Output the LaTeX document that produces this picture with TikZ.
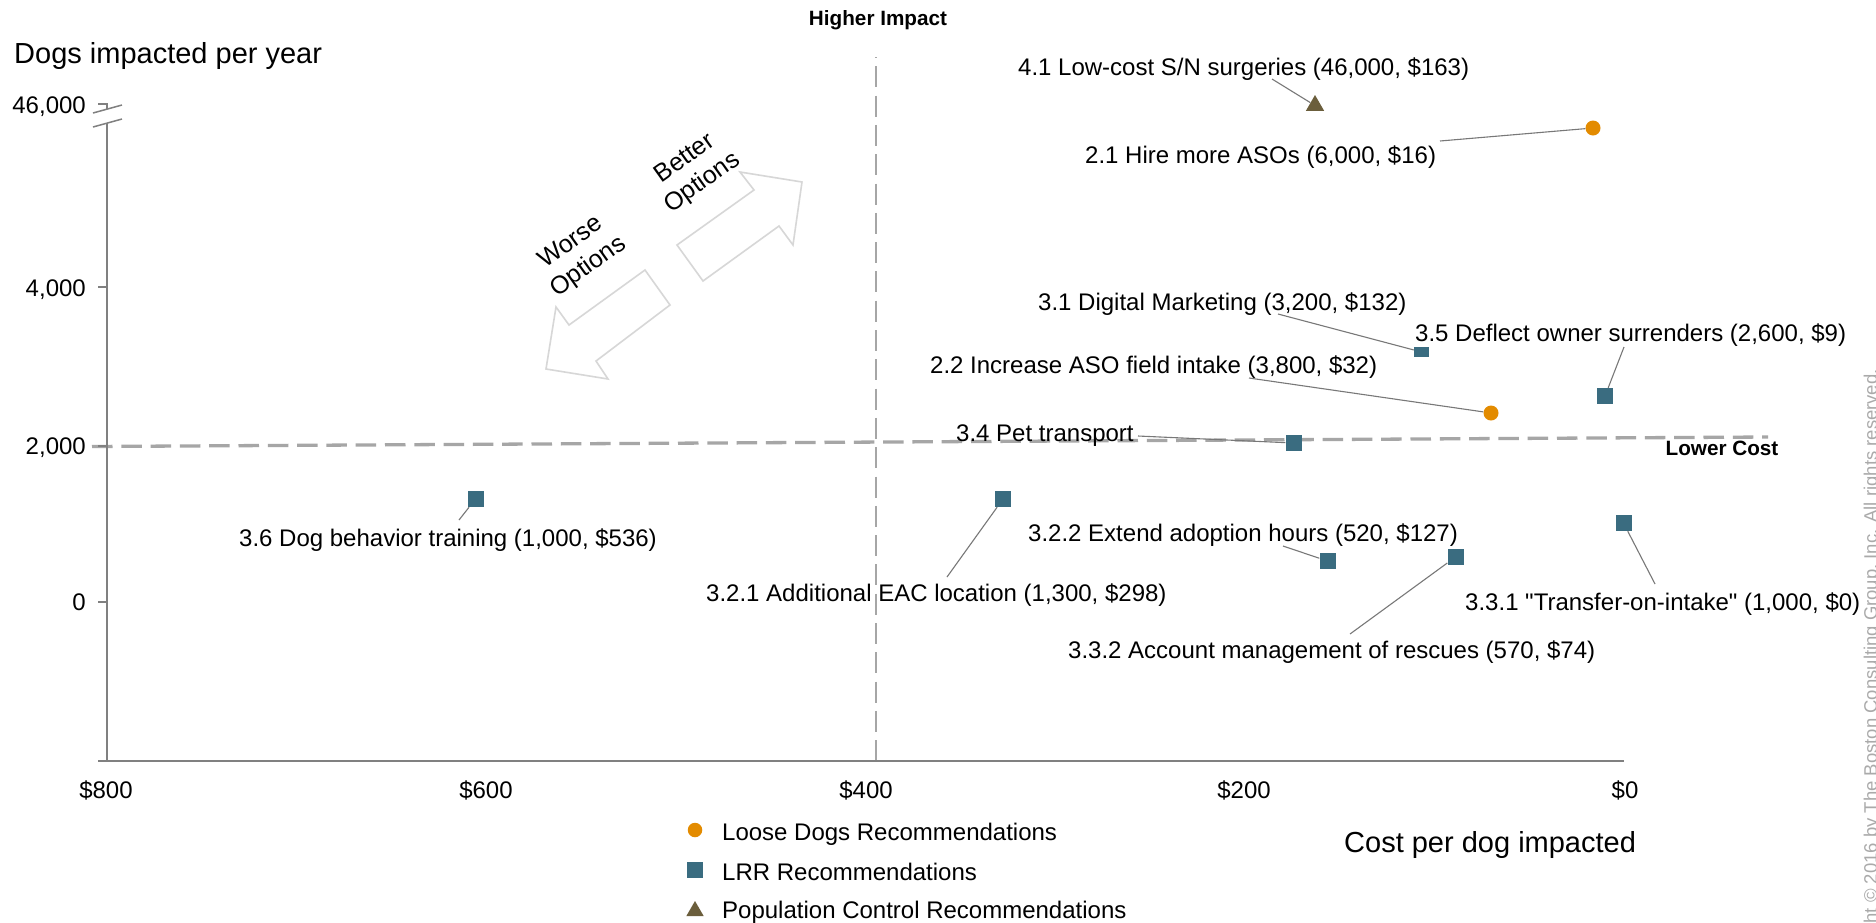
\documentclass[tikz,border=0pt]{standalone}
\usepackage{fontspec}
\setmainfont{Liberation Sans}
\newfontfamily\plainquote{Liberation Sans}
\usetikzlibrary{shapes.geometric}
\definecolor{loose}{RGB}{227,139,0}
\definecolor{lrr}{RGB}{58,108,128}
\definecolor{popc}{RGB}{107,94,60}
\definecolor{axisgray}{RGB}{128,128,128}
\definecolor{dashgray}{RGB}{166,166,166}
\definecolor{arrowgray}{RGB}{215,215,215}
\definecolor{leadgray}{RGB}{120,120,120}
\definecolor{copygray}{RGB}{170,170,170}
\begin{document}
\begin{tikzpicture}[x=1pt,y=-1pt,
  lbl/.style={font=\fontsize{24}{28}\selectfont, inner sep=0pt, text height=17.2pt, text depth=0pt, anchor=west},
  ticklbl/.style={font=\fontsize{24}{28}\selectfont, inner sep=0pt, text height=17.2pt, text depth=0pt},
  ttl/.style={font=\fontsize{29}{34}\selectfont, inner sep=0pt, text height=20.8pt, text depth=0pt, anchor=west},
  bld/.style={font=\bfseries\fontsize{20.7}{24}\selectfont, inner sep=0pt, text height=14.8pt, text depth=0pt},
  arrtxt/.style={font=\fontsize{25}{30}\selectfont, align=center, rotate=35.5, inner sep=0pt},
  axisln/.style={draw=axisgray, line width=1.8pt},
  dashln/.style={draw=dashgray},
  leader/.style={draw=leadgray, line width=1.1pt},
  bigarrow/.style={draw=arrowgray, line width=1.6pt, fill=white, line join=miter},
  sq/.style={rectangle, fill=lrr, minimum size=16pt, inner sep=0pt},
  dot/.style={circle, fill=loose, minimum size=15pt, inner sep=0pt},
  tri/.style={regular polygon, regular polygon sides=3, fill=popc, minimum size=21pt, inner sep=0pt}
]
\useasboundingbox (0,0) rectangle (1876,922);
\fill[white] (0,0) rectangle (1876,922);

% dashed quadrant lines
\draw[dashln, line width=3.3pt, dash pattern=on 20.5pt off 8.8pt] (92,446.5) -- (1768,437);
\draw[dashln, line width=2pt, dash pattern=on 21pt off 8.3pt, dash phase=20pt] (876,57) -- (876,761);

% axes
\draw[axisln] (98,104) -- (107,104) -- (107,109);
\draw[axisln, line width=1.5pt] (93,113) -- (122,105);
\draw[axisln, line width=1.5pt] (93,127) -- (122,119);
\draw[axisln] (107,123) -- (107,761) -- (1624,761);
\draw[axisln] (98,287) -- (107,287);
\draw[axisln] (98,446) -- (107,446);
\draw[axisln] (98,602) -- (107,602);
\draw[axisln] (98,761) -- (107,761);

% tick labels
\node[ticklbl, anchor=east] (y46) at (86,105) {46,000};
\node[ticklbl, anchor=east] (y4) at (86,288) {4,000};
\node[ticklbl, anchor=east] (y2) at (86,446) {2,000};
\node[ticklbl, anchor=east] (y0) at (86,602) {0};
\node[ticklbl] (x800) at (106,790) {\$800};
\node[ticklbl] (x600) at (486,790) {\$600};
\node[ticklbl] (x400) at (866,790) {\$400};
\node[ticklbl] (x200) at (1244,790) {\$200};
\node[ticklbl] (x0) at (1625,790) {\$0};

% axis titles
\node[ttl] (ytitle) at (14,53) {Dogs impacted per year};
\node[ttl] (xtitle) at (1344,842) {Cost per dog impacted};
\node[bld] (hi) at (878,18) {Higher Impact};
\node[bld] (lo) at (1722,448) {Lower Cost};

% better / worse arrows
\draw[bigarrow] (703,281) -- (677,245) -- (754,190) -- (740,172) -- (802,182) -- (793,245) -- (779,226) -- cycle;
\draw[bigarrow] (546,369) -- (556,307) -- (569,325) -- (645,270) -- (670,305) -- (596,361) -- (608,379) -- cycle;
\node[arrtxt] (better) at (694,171) {Better\\Options};
\node[arrtxt] (worse) at (580,255) {Worse\\Options};

% markers
\node[tri] (T41) at (1315,105.5) {};
\node[dot] (C21) at (1593,128) {};
\node[rectangle, fill=lrr, minimum width=15pt, minimum height=10pt, inner sep=0pt] (S31) at (1421.5,352) {};
\node[sq] (S35) at (1605,396) {};
\node[dot] (C22) at (1491,413) {};
\node[sq] (S34) at (1293.5,443) {};
\node[sq] (S36) at (475.5,499) {};
\node[sq] (S321) at (1003,499) {};
\node[sq] (S322) at (1327.5,561) {};
\node[sq] (S332) at (1455.5,557) {};
\node[sq] (S331) at (1623.5,523) {};

% labels
\node[lbl] (L41) at (1018,67) {4.1 Low-cost S/N surgeries (46,000, \$163)};
\node[lbl] (L21) at (1085,155) {2.1 Hire more ASOs (6,000, \$16)};
\node[lbl] (L31) at (1038,302) {3.1 Digital Marketing (3,200, \$132)};
\node[lbl] (L35) at (1415,333) {3.5 Deflect owner surrenders (2,600, \$9)};
\node[lbl] (L22) at (930,365) {2.2 Increase ASO field intake (3,800, \$32)};
\node[lbl] (L34) at (956,433) {3.4 Pet transport};
\node[lbl] (L36) at (239,538) {3.6 Dog behavior training (1,000, \$536)};
\node[lbl] (L321) at (706,593) {3.2.1 Additional EAC location (1,300, \$298)};
\node[lbl] (L322) at (1028,533) {3.2.2 Extend adoption hours (520, \$127)};
\node[lbl] (L332) at (1068,650) {3.3.2 Account management of rescues (570, \$74)};
\node[lbl] (L331) at (1465,602) {3.3.1 {\plainquote"}Transfer-on-intake{\plainquote"} (1,000, \$0)};

% leader lines
\coordinate (a41) at (1272,79);
\coordinate (a21) at (1440,141);
\coordinate (a31) at (1278,314);
\coordinate (a35) at (1624,347);
\coordinate (a22) at (1249,378);
\coordinate (a34) at (1138,436);
\coordinate (a36) at (459,520);
\coordinate (a321) at (947,577);
\coordinate (a322) at (1283,546);
\coordinate (a332) at (1350,634);
\coordinate (a331) at (1655,584);
\draw[leader] (a41) -- (T41);
\draw[leader] (a21) -- (C21);
\draw[leader] (a31) -- (S31);
\draw[leader] (a35) -- (S35);
\draw[leader] (a22) -- (C22);
\draw[leader] (a34) -- (S34);
\draw[leader] (a36) -- (S36);
\draw[leader] (a321) -- (S321);
\draw[leader] (a322) -- (S322);
\draw[leader] (a332) -- (S332);
\draw[leader] (a331) -- (S331);

% legend
\node[dot, minimum size=14.5pt] (g1) at (695,830) {};
\node[sq] (g2) at (695,870) {};
\node[tri, minimum size=20pt] (g3) at (695,911) {};
\node[lbl] (gt1) at (722,832) {Loose Dogs Recommendations};
\node[lbl] (gt2) at (722,872) {LRR Recommendations};
\node[lbl] (gt3) at (722,910) {Population Control Recommendations};

% copyright
\node[font=\fontsize{18.5}{22}\selectfont, text=copygray, rotate=90, anchor=base east, inner sep=0pt] (copy) at (1877,369) {Copyright \textcopyright{} 2016 by The Boston Consulting Group, Inc. All rights reserved.};
\end{tikzpicture}
\end{document}
